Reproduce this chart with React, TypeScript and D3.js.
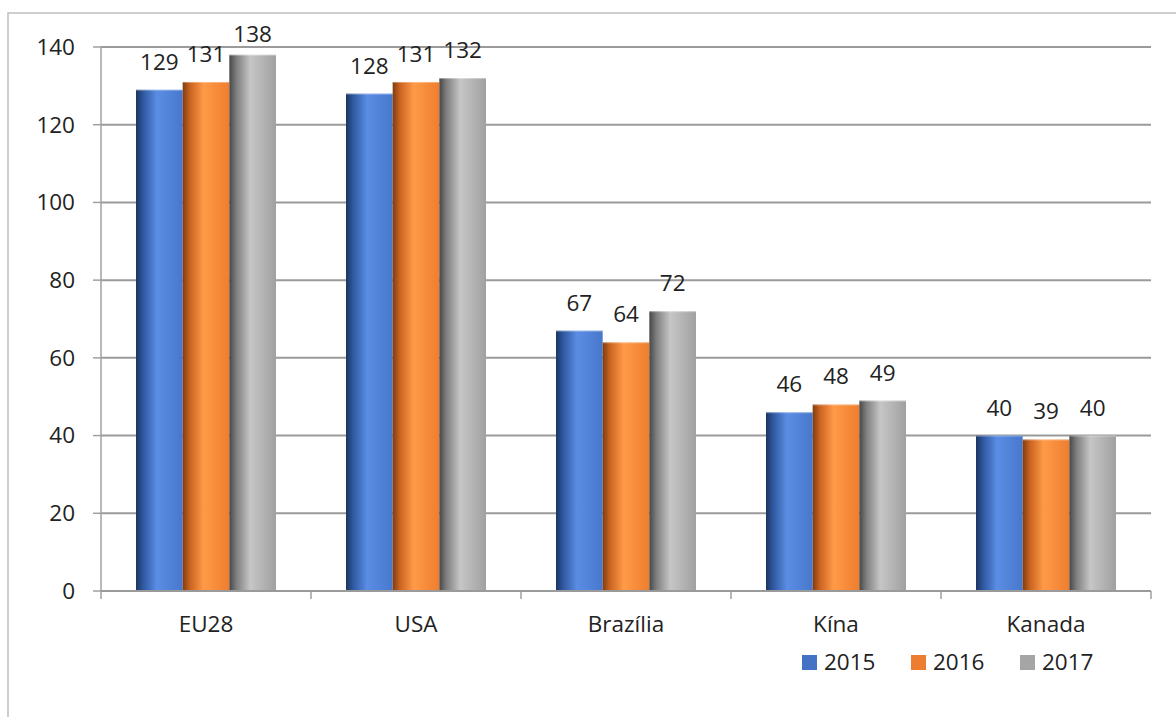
import React from "react";
import * as d3 from "d3";

const categories = ["EU28", "USA", "Brazília", "Kína", "Kanada"];
const years = ["2015", "2016", "2017"];
const values2015 = [129, 128, 67, 46, 40];
const values2016 = [131, 131, 64, 48, 39];
const values2017 = [138, 132, 72, 49, 40];
const yTicks = [0, 20, 40, 60, 80, 100, 120, 140];

const seriesValues = [values2015, values2016, values2017];
const legendColors = ["#4472C4", "#ED7D31", "#A5A5A5"];
const gradients = [
  ["#1C355F", "#2E58A0", "#5A8DE4", "#4878CC"],
  ["#7E3C12", "#C8621F", "#FF9A48", "#EE7E2E"],
  ["#474747", "#7E7E7E", "#C6C6C6", "#A0A0A0"],
];

const W = 1176;
const H = 717;
const left = 101;
const right = 1151;
const top = 47;
const bottom = 591;
const font = "'Open Sans', 'Noto Sans', sans-serif";
const fs = 22.5;
const textColor = "#222222";

const App: React.FC = () => {
  const x = d3.scaleBand().domain(categories).range([left, right]).paddingInner(0).paddingOuter(0);
  const inner = d3.scaleBand().domain(years).range([0, x.bandwidth()]).paddingOuter(0.75).paddingInner(0);
  const y = d3.scaleLinear().domain([0, 140]).range([bottom, top]);

  return (
    <svg
      width={W}
      height={H}
      style={{ position: "fixed", left: 0, top: 0, background: "#fff" }}
    >
      <defs>
        {gradients.map((g, i) => (
          <linearGradient key={i} id={`g${i}`} x1="0" x2="1" y1="0" y2="0">
            <stop offset="0" stopColor={g[0]} />
            <stop offset="0.15" stopColor={g[1]} />
            <stop offset="0.45" stopColor={g[2]} />
            <stop offset="1" stopColor={g[3]} />
          </linearGradient>
        ))}
      </defs>
      <rect x={8} y={13} width={W + 20} height={H + 20} fill="#fff" stroke="#BFBFBF" strokeWidth={1.5} />

      {/* gridlines */}
      {yTicks.map((t) => (
        <line key={t} x1={left} x2={right} y1={y(t)} y2={y(t)} stroke="#9A9A9A" strokeWidth={2} />
      ))}
      <line x1={left} x2={left} y1={top} y2={bottom} stroke="#A0A0A0" strokeWidth={1.5} />
      {yTicks.map((t) => (
        <g key={"yt" + t}>
          <line x1={left - 8} x2={left} y1={y(t)} y2={y(t)} stroke="#A0A0A0" strokeWidth={1.5} />
          <text
            x={75}
            y={y(t)}
            dy="0.35em"
            textAnchor="end"
            fontFamily={font}
            fontSize={fs}
            fill={textColor}
          >
            {t}
          </text>
        </g>
      ))}
      {d3.range(categories.length + 1).map((i) => {
        const xx = left + i * x.bandwidth();
        return <line key={"xt" + i} x1={xx} x2={xx} y1={bottom} y2={bottom + 8} stroke="#A0A0A0" strokeWidth={1.5} />;
      })}

      {/* bars */}
      {categories.map((c, ci) => (
        <g key={c} transform={`translate(${x(c)},0)`}>
          {years.map((yr, si) => {
            const v = seriesValues[si][ci];
            const bx = inner(yr)!;
            const bw = inner.bandwidth();
            return (
              <g key={yr}>
                <rect x={bx} y={y(v)} width={bw} height={bottom - y(v)} fill={`url(#g${si})`} />
                <line x1={bx} x2={bx + bw} y1={y(v) + 0.5} y2={y(v) + 0.5} stroke="#ffffff" strokeOpacity={0.35} />
                <text
                  x={bx + bw / 2}
                  y={Math.max(y(v) - 20, 42)}
                  textAnchor="middle"
                  fontFamily={font}
                  fontSize={fs}
                  fill={textColor}
                >
                  {v}
                </text>
              </g>
            );
          })}
          <text
            x={x.bandwidth() / 2}
            y={632}
            textAnchor="middle"
            fontFamily={font}
            fontSize={fs}
            fill={textColor}
          >
            {c}
          </text>
        </g>
      ))}
      <line x1={left} x2={right} y1={bottom} y2={bottom} stroke="#9A9A9A" strokeWidth={2} />

      {/* legend */}
      {years.map((yr, i) => (
        <g key={"lg" + yr} transform={`translate(${802 + i * 109},655)`}>
          <rect x={0} y={0} width={15} height={15} fill={legendColors[i]} />
          <text x={22} y={7.5} dy="0.35em" fontFamily={font} fontSize={fs} fill={textColor}>
            {yr}
          </text>
        </g>
      ))}
    </svg>
  );
};

export default App;
